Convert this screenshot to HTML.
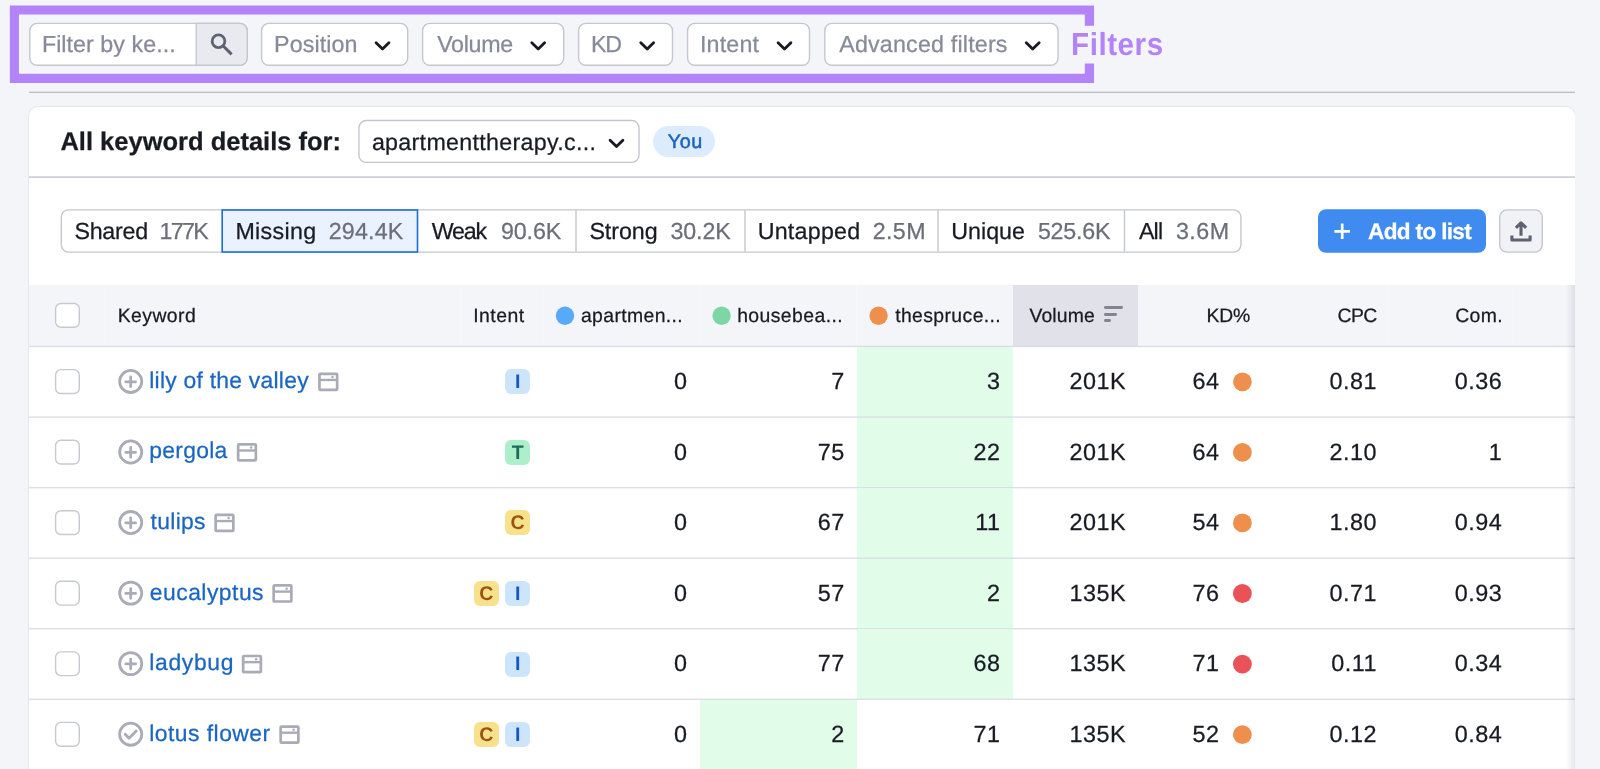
<!DOCTYPE html>
<html>
<head>
<meta charset="utf-8">
<title>Keyword Gap</title>
<style>
*{box-sizing:border-box;margin:0;padding:0}
html,body{width:1600px;height:769px;overflow:hidden;background:#f4f5f9;font-family:"Liberation Sans",sans-serif;color:#191b23}
.a{position:absolute}
.t{position:absolute;white-space:nowrap;-webkit-text-stroke:0.25px currentColor;text-rendering:geometricPrecision}
</style>
</head>
<body>
<div id="root" style="position:absolute;left:0;top:0;width:1600px;height:769px;overflow:hidden;will-change:transform">
<svg class="a" style="left:0;top:0" width="1100" height="90"><path d="M9.85 5.45H1094.05V25.8H1084.8V14.55H18.95V73.85000000000001H1084.8V63.5H1094.05V82.95H9.85Z" fill="#b284f7"/></svg>
<div class="t" style="left:1071.00px;top:31.00px;font-size:29.6px;line-height:29.6px;letter-spacing:0.55px;color:#b284f7;font-weight:bold;-webkit-text-stroke:0;transform:scaleY(1.075);transform-origin:0 84.6%;">Filters</div>
<svg class="a" style="left:28px;top:21px" width="221" height="46"><rect x="1.80" y="2.40" width="217.40" height="41.90" rx="7.30" fill="#fff" stroke="#c4c7cf" stroke-width="1.4"/></svg>
<svg class="a" style="left:195px;top:22px" width="54" height="45"><path d="M1.2 1.4H44.9a7.3 7.3 0 0 1 7.3 7.3V36a7.3 7.3 0 0 1-7.3 7.3H1.2z" fill="#e9eaf0" stroke="#c4c7cf" stroke-width="1.4"/></svg>
<div class="t" style="left:41.90px;top:33.00px;font-size:23.25px;line-height:23.25px;letter-spacing:0.05px;color:#878a99;">Filter by ke...</div>
<svg class="a" style="left:208px;top:31px" width="30" height="30" fill="none" stroke="#5f6270" stroke-width="3"><g transform="translate(0.00 0.00)"><circle cx="10.5" cy="10.25" r="6.35" stroke-width="2.8"/><path d="M15 14.75l8.6 8.6"/></g></svg>
<svg class="a" style="left:259px;top:21px" width="151" height="46"><rect x="2.60" y="2.40" width="146.10" height="41.90" rx="7.30" fill="#fff" stroke="#c4c7cf" stroke-width="1.4"/></svg>
<div class="t" style="left:274.10px;top:33.00px;font-size:23.25px;line-height:23.25px;letter-spacing:0.09px;color:#878a99;">Position</div>
<svg class="a" style="left:373px;top:40px" width="20" height="14" fill="none" stroke="#191b23" stroke-width="2.85" stroke-linecap="round" stroke-linejoin="round"><g transform="translate(0.50 0.20)"><path d="M2.6 2.6l6.4 6.2 6.4-6.2"/></g></svg>
<svg class="a" style="left:420px;top:21px" width="146" height="46"><rect x="2.60" y="2.40" width="141.10" height="41.90" rx="7.30" fill="#fff" stroke="#c4c7cf" stroke-width="1.4"/></svg>
<div class="t" style="left:437.15px;top:33.00px;font-size:23.25px;line-height:23.25px;letter-spacing:-0.31px;color:#878a99;">Volume</div>
<svg class="a" style="left:529px;top:40px" width="20" height="14" fill="none" stroke="#191b23" stroke-width="2.85" stroke-linecap="round" stroke-linejoin="round"><g transform="translate(0.20 0.20)"><path d="M2.6 2.6l6.4 6.2 6.4-6.2"/></g></svg>
<svg class="a" style="left:576px;top:21px" width="99" height="46"><rect x="2.60" y="2.40" width="93.90" height="41.90" rx="7.30" fill="#fff" stroke="#c4c7cf" stroke-width="1.4"/></svg>
<div class="t" style="left:590.90px;top:33.00px;font-size:23.25px;line-height:23.25px;letter-spacing:-1.25px;color:#878a99;">KD</div>
<svg class="a" style="left:638px;top:40px" width="20" height="14" fill="none" stroke="#191b23" stroke-width="2.85" stroke-linecap="round" stroke-linejoin="round"><g transform="translate(0.20 0.20)"><path d="M2.6 2.6l6.4 6.2 6.4-6.2"/></g></svg>
<svg class="a" style="left:685px;top:21px" width="127" height="46"><rect x="2.60" y="2.40" width="121.90" height="41.90" rx="7.30" fill="#fff" stroke="#c4c7cf" stroke-width="1.4"/></svg>
<div class="t" style="left:699.95px;top:33.00px;font-size:23.25px;line-height:23.25px;letter-spacing:0.19px;color:#878a99;">Intent</div>
<svg class="a" style="left:775px;top:40px" width="20" height="14" fill="none" stroke="#191b23" stroke-width="2.85" stroke-linecap="round" stroke-linejoin="round"><g transform="translate(0.50 0.20)"><path d="M2.6 2.6l6.4 6.2 6.4-6.2"/></g></svg>
<svg class="a" style="left:823px;top:21px" width="237" height="46"><rect x="1.80" y="2.40" width="233.20" height="41.90" rx="7.30" fill="#fff" stroke="#c4c7cf" stroke-width="1.4"/></svg>
<div class="t" style="left:839.20px;top:33.00px;font-size:23.25px;line-height:23.25px;letter-spacing:0.19px;color:#878a99;">Advanced filters</div>
<svg class="a" style="left:1023px;top:40px" width="20" height="14" fill="none" stroke="#191b23" stroke-width="2.85" stroke-linecap="round" stroke-linejoin="round"><g transform="translate(0.70 0.20)"><path d="M2.6 2.6l6.4 6.2 6.4-6.2"/></g></svg>
<div class="a" style="left:29.00px;top:91px;width:1545.70px;height:1px;background:rgba(192,192,196,0.35)"></div>
<div class="a" style="left:29.00px;top:92px;width:1545.70px;height:1px;background:rgba(192,192,196,1.00)"></div>
<div class="a" style="left:29.00px;top:93px;width:1545.70px;height:1px;background:rgba(192,192,196,0.05)"></div>
<div class="a" style="left:29.00px;top:107.40px;width:1545.50px;height:692.60px;background:#fff;border-radius:9px;box-shadow:0 0 0 1px #e6e7ed"></div>
<div class="t" style="left:60.45px;top:130.00px;font-size:25.5px;line-height:25.5px;letter-spacing:-0.00px;color:#191b23;font-weight:bold;">All keyword details for:</div>
<svg class="a" style="left:357px;top:118px" width="284" height="47"><rect x="1.90" y="2.50" width="280.10" height="41.90" rx="7.30" fill="#fff" stroke="#c4c7cf" stroke-width="1.4"/></svg>
<div class="t" style="left:371.90px;top:131.00px;font-size:23.25px;line-height:23.25px;letter-spacing:0.30px;color:#191b23;">apartmenttherapy.c...</div>
<svg class="a" style="left:607px;top:137px" width="20" height="14" fill="none" stroke="#191b23" stroke-width="2.85" stroke-linecap="round" stroke-linejoin="round"><g transform="translate(0.50 0.60)"><path d="M2.6 2.6l6.4 6.2 6.4-6.2"/></g></svg>
<div class="a" style="left:653.00px;top:126.00px;width:62.00px;height:31.00px;background:#dcecfc;border-radius:16px"></div>
<div class="t" style="left:667.80px;top:133.00px;font-size:19.8px;line-height:19.8px;letter-spacing:0.50px;color:#1a63c4;-webkit-text-stroke:0.5px #1a63c4;">You</div>
<div class="a" style="left:29.00px;top:176px;width:1545.70px;height:1px;background:rgba(194,197,206,0.60)"></div>
<div class="a" style="left:29.00px;top:177px;width:1545.70px;height:1px;background:rgba(194,197,206,0.80)"></div>
<svg class="a" style="left:59px;top:208px" width="1184" height="46"><rect x="2.30" y="1.90" width="1179.60" height="42.20" rx="7.30" fill="#fff" stroke="#c4c7cf" stroke-width="1.4"/></svg>
<div class="a" style="left:575px;top:210.00px;width:1px;height:42.00px;background:rgba(196,199,207,0.70)"></div>
<div class="a" style="left:576px;top:210.00px;width:1px;height:42.00px;background:rgba(196,199,207,0.70)"></div>
<div class="a" style="left:744px;top:210.00px;width:1px;height:42.00px;background:rgba(196,199,207,0.70)"></div>
<div class="a" style="left:745px;top:210.00px;width:1px;height:42.00px;background:rgba(196,199,207,0.70)"></div>
<div class="a" style="left:937px;top:210.00px;width:1px;height:42.00px;background:rgba(196,199,207,0.70)"></div>
<div class="a" style="left:938px;top:210.00px;width:1px;height:42.00px;background:rgba(196,199,207,0.70)"></div>
<div class="a" style="left:1123px;top:210.00px;width:1px;height:42.00px;background:rgba(196,199,207,0.20)"></div>
<div class="a" style="left:1124px;top:210.00px;width:1px;height:42.00px;background:rgba(196,199,207,1.00)"></div>
<div class="a" style="left:1125px;top:210.00px;width:1px;height:42.00px;background:rgba(196,199,207,0.20)"></div>
<svg class="a" style="left:220px;top:208px" width="200" height="46"><rect x="2.20" y="2.00" width="195.30" height="42.00" rx="0.00" fill="#e9f2fe" stroke="#1c6dd6" stroke-width="1.6"/></svg>
<div class="t" style="left:74.40px;top:220.00px;font-size:23.25px;line-height:23.25px;letter-spacing:-0.26px;color:#191b23;">Shared</div>
<div class="t" style="left:159.40px;top:220.00px;font-size:23.25px;line-height:23.25px;letter-spacing:-1.68px;color:#6c6e79;">177K</div>
<div class="t" style="left:235.40px;top:220.00px;font-size:23.25px;line-height:23.25px;letter-spacing:0.33px;color:#191b23;">Missing</div>
<div class="t" style="left:328.65px;top:220.00px;font-size:23.25px;line-height:23.25px;letter-spacing:0.19px;color:#6c6e79;">294.4K</div>
<div class="t" style="left:431.65px;top:220.00px;font-size:23.25px;line-height:23.25px;letter-spacing:-1.18px;color:#191b23;">Weak</div>
<div class="t" style="left:500.90px;top:220.00px;font-size:23.25px;line-height:23.25px;letter-spacing:-0.07px;color:#6c6e79;">90.6K</div>
<div class="t" style="left:589.40px;top:220.00px;font-size:23.25px;line-height:23.25px;letter-spacing:-0.06px;color:#191b23;">Strong</div>
<div class="t" style="left:670.40px;top:220.00px;font-size:23.25px;line-height:23.25px;letter-spacing:-0.07px;color:#6c6e79;">30.2K</div>
<div class="t" style="left:757.65px;top:220.00px;font-size:23.25px;line-height:23.25px;letter-spacing:0.24px;color:#191b23;">Untapped</div>
<div class="t" style="left:872.65px;top:220.00px;font-size:23.25px;line-height:23.25px;letter-spacing:0.40px;color:#6c6e79;">2.5M</div>
<div class="t" style="left:951.15px;top:220.00px;font-size:23.25px;line-height:23.25px;letter-spacing:0.04px;color:#191b23;">Unique</div>
<div class="t" style="left:1037.90px;top:220.00px;font-size:23.25px;line-height:23.25px;letter-spacing:-0.21px;color:#6c6e79;">525.6K</div>
<div class="t" style="left:1138.90px;top:220.00px;font-size:23.25px;line-height:23.25px;letter-spacing:-0.78px;color:#191b23;">All</div>
<div class="t" style="left:1175.90px;top:220.00px;font-size:23.25px;line-height:23.25px;letter-spacing:0.48px;color:#6c6e79;">3.6M</div>
<svg class="a" style="left:1317px;top:208px" width="170" height="46"><rect x="1.70" y="1.90" width="166.60" height="42.20" rx="7.30" fill="#3f8bf0" stroke="#3f8bf0" stroke-width="1.4"/></svg>
<svg class="a" style="left:1332px;top:221px" width="22" height="22" fill="none" stroke="#fff" stroke-width="2.7"><g transform="translate(0.20 0.30)"><path d="M10 2.2v15.6M2.2 10h15.6"/></g></svg>
<div class="t" style="left:1368.10px;top:221.00px;font-size:22.6px;line-height:22.6px;letter-spacing:-0.68px;color:#fff;font-weight:bold;">Add to list</div>
<svg class="a" style="left:1498px;top:208px" width="46" height="46"><rect x="1.70" y="1.90" width="42.60" height="42.20" rx="7.30" fill="#f1f2f6" stroke="#c4c7cf" stroke-width="1.4"/></svg>
<svg class="a" style="left:1508px;top:218px" width="26" height="26" viewBox="0 0 26 26" fill="none" stroke="#5f6270" stroke-width="3.1" stroke-linejoin="round"><path d="M13 17.8V5M7.9 9.9L13 4.8l5.1 5.1M3.9 17.6v4.4h18.2v-4.4"/></svg>
<div class="a" style="left:29.00px;top:284.50px;width:1545.70px;height:61.50px;background:#f4f5f9"></div>
<div class="a" style="left:1013.20px;top:284.50px;width:125.10px;height:61.50px;background:#e0e1e9"></div>
<div class="a" style="left:104.50px;top:284.50px;width:1.00px;height:61.50px;background:#f7f8fb"></div>
<div class="a" style="left:460.50px;top:284.50px;width:1.00px;height:61.50px;background:#f7f8fb"></div>
<div class="a" style="left:542.00px;top:284.50px;width:1.00px;height:61.50px;background:#f7f8fb"></div>
<div class="a" style="left:699.00px;top:284.50px;width:1.00px;height:61.50px;background:#f7f8fb"></div>
<div class="a" style="left:856.00px;top:284.50px;width:1.00px;height:61.50px;background:#f7f8fb"></div>
<div class="a" style="left:1388.30px;top:284.50px;width:1.00px;height:61.50px;background:#f7f8fb"></div>
<div class="a" style="left:1513.30px;top:284.50px;width:1.00px;height:61.50px;background:#f7f8fb"></div>
<div class="a" style="left:29.00px;top:345px;width:1545.70px;height:1px;background:rgba(218,219,227,0.25)"></div>
<div class="a" style="left:29.00px;top:346px;width:1545.70px;height:1px;background:rgba(218,219,227,1.00)"></div>
<div class="a" style="left:29.00px;top:347px;width:1545.70px;height:1px;background:rgba(218,219,227,0.15)"></div>
<svg class="a" style="left:53px;top:301px" width="28" height="28"><rect x="2.60" y="2.50" width="23.70" height="23.80" rx="5.30" fill="#fff" stroke="#c6c9d1" stroke-width="1.4"/></svg>
<div class="t" style="left:117.70px;top:307.00px;font-size:19.4px;line-height:19.4px;letter-spacing:0.44px;color:#191b23;">Keyword</div>
<div class="t" style="left:473.15px;top:307.00px;font-size:19.4px;line-height:19.4px;letter-spacing:0.50px;color:#191b23;">Intent</div>
<div class="t" style="left:580.95px;top:307.00px;font-size:19.4px;line-height:19.4px;letter-spacing:0.37px;color:#191b23;">apartmen...</div>
<div class="t" style="left:737.15px;top:307.00px;font-size:19.4px;line-height:19.4px;letter-spacing:0.42px;color:#191b23;">housebea...</div>
<div class="t" style="left:895.15px;top:307.00px;font-size:19.4px;line-height:19.4px;letter-spacing:0.39px;color:#191b23;">thespruce...</div>
<div class="t" style="left:1029.45px;top:307.00px;font-size:19.4px;line-height:19.4px;letter-spacing:0.14px;color:#191b23;">Volume</div>
<div class="t" style="left:1206.40px;top:307.00px;font-size:19.4px;line-height:19.4px;letter-spacing:-0.15px;color:#191b23;">KD%</div>
<div class="t" style="left:1337.40px;top:307.00px;font-size:19.4px;line-height:19.4px;letter-spacing:-0.50px;color:#191b23;">CPC</div>
<div class="t" style="left:1455.20px;top:307.00px;font-size:19.4px;line-height:19.4px;letter-spacing:0.40px;color:#191b23;">Com.</div>
<svg class="a" style="left:554px;top:305px" width="22.4" height="22.4" ><g transform="translate(0.80 0.60)"><circle cx="10.20" cy="10.20" r="9.20" fill="#57aaf8"/></g></svg>
<svg class="a" style="left:711px;top:305px" width="22.4" height="22.4" ><g transform="translate(0.40 0.60)"><circle cx="10.20" cy="10.20" r="9.20" fill="#7dd6a4"/></g></svg>
<svg class="a" style="left:868px;top:305px" width="22.4" height="22.4" ><g transform="translate(0.40 0.60)"><circle cx="10.20" cy="10.20" r="9.20" fill="#ee8f4e"/></g></svg>
<div class="a" style="left:1104.30px;top:306.30px;width:18.70px;height:2.80px;background:#82858f;border-radius:1.4px"></div>
<div class="a" style="left:1104.30px;top:312.75px;width:12.50px;height:2.80px;background:#82858f;border-radius:1.4px"></div>
<div class="a" style="left:1104.30px;top:319.05px;width:6.30px;height:2.80px;background:#82858f;border-radius:1.4px"></div>
<div class="a" style="left:856.80px;top:347.00px;width:156.40px;height:71.00px;background:#e2fcea"></div>
<div class="a" style="left:29.00px;top:416px;width:1545.70px;height:1px;background:rgba(221,222,230,0.60)"></div>
<div class="a" style="left:29.00px;top:417px;width:1545.70px;height:1px;background:rgba(221,222,230,0.80)"></div>
<svg class="a" style="left:53px;top:367px" width="28" height="29"><rect x="2.60" y="2.65" width="23.70" height="23.80" rx="5.30" fill="#fff" stroke="#c6c9d1" stroke-width="1.4"/></svg>
<svg class="a" style="left:117px;top:368px" width="28" height="28" fill="none" stroke="#a9abb6" stroke-width="2.8"><g transform="translate(0.70 0.45)"><circle cx="13" cy="13" r="11.05"/><path d="M13 8.4v9.8M8.1 13.3h9.8" stroke-width="2.75" stroke-linecap="round"/></g></svg>
<div class="t" style="left:149.30px;top:369.00px;font-size:22.9px;line-height:22.9px;letter-spacing:0.24px;color:#1a66c2;">lily of the valley</div>
<svg class="a" style="left:317px;top:371px" width="23" height="22"><rect x="2.45" y="2.80" width="17.70" height="16.05" rx="0.85" fill="none" stroke="#a9abb6" stroke-width="2.7"/><path d="M2.10 8.95h18.4" stroke="#a9abb6" stroke-width="2.4" fill="none"/><circle cx="15.45" cy="6.00" r="1.25" fill="#a9abb6"/></svg>
<div class="a" style="left:505.30px;top:369.35px;width:25.00px;height:25.00px;background:#cde5fb;border-radius:6px"></div>
<div class="t" style="left:514.95px;top:373.00px;font-size:19.6px;line-height:19.6px;letter-spacing:0.00px;color:#1558c0;font-weight:bold;-webkit-text-stroke:0;">I</div>
<div class="t" style="left:673.90px;top:370.00px;font-size:23.4px;line-height:23.4px;letter-spacing:0.50px;color:#191b23">0</div>
<div class="t" style="left:831.15px;top:370.00px;font-size:23.4px;line-height:23.4px;letter-spacing:0.50px;color:#191b23">7</div>
<div class="t" style="left:987.10px;top:370.00px;font-size:23.4px;line-height:23.4px;letter-spacing:0.50px;color:#191b23">3</div>
<div class="t" style="left:1069.45px;top:370.00px;font-size:23.4px;line-height:23.4px;letter-spacing:0.50px;color:#191b23">201K</div>
<div class="t" style="left:1192.45px;top:370.00px;font-size:23.4px;line-height:23.4px;letter-spacing:0.50px;color:#191b23">64</div>
<svg class="a" style="left:1232px;top:371px" width="22.8" height="22.8" ><g transform="translate(0.00 0.45)"><circle cx="10.40" cy="10.40" r="9.40" fill="#ee8f4e"/></g></svg>
<div class="t" style="left:1329.55px;top:370.00px;font-size:23.4px;line-height:23.4px;letter-spacing:0.50px;color:#191b23">0.81</div>
<div class="t" style="left:1454.80px;top:370.00px;font-size:23.4px;line-height:23.4px;letter-spacing:0.50px;color:#191b23">0.36</div>
<div class="a" style="left:856.80px;top:418.00px;width:156.40px;height:70.00px;background:#e2fcea"></div>
<div class="a" style="left:29.00px;top:486px;width:1545.70px;height:1px;background:rgba(221,222,230,0.05)"></div>
<div class="a" style="left:29.00px;top:487px;width:1545.70px;height:1px;background:rgba(221,222,230,1.00)"></div>
<div class="a" style="left:29.00px;top:488px;width:1545.70px;height:1px;background:rgba(221,222,230,0.35)"></div>
<svg class="a" style="left:53px;top:438px" width="28" height="28"><rect x="2.60" y="2.20" width="23.70" height="23.80" rx="5.30" fill="#fff" stroke="#c6c9d1" stroke-width="1.4"/></svg>
<svg class="a" style="left:117px;top:439px" width="28" height="28" fill="none" stroke="#a9abb6" stroke-width="2.8"><g transform="translate(0.70 0.00)"><circle cx="13" cy="13" r="11.05"/><path d="M13 8.4v9.8M8.1 13.3h9.8" stroke-width="2.75" stroke-linecap="round"/></g></svg>
<div class="t" style="left:149.30px;top:439.00px;font-size:22.9px;line-height:22.9px;letter-spacing:0.26px;color:#1a66c2;">pergola</div>
<svg class="a" style="left:235px;top:442px" width="24" height="21"><rect x="3.15" y="2.35" width="17.70" height="16.05" rx="0.85" fill="none" stroke="#a9abb6" stroke-width="2.7"/><path d="M2.80 8.50h18.4" stroke="#a9abb6" stroke-width="2.4" fill="none"/><circle cx="16.15" cy="5.55" r="1.25" fill="#a9abb6"/></svg>
<div class="a" style="left:505.30px;top:439.90px;width:25.00px;height:25.00px;background:#aeefcb;border-radius:6px"></div>
<div class="t" style="left:511.70px;top:444.00px;font-size:19.6px;line-height:19.6px;letter-spacing:0.00px;color:#1c6e5a;font-weight:bold;-webkit-text-stroke:0;">T</div>
<div class="t" style="left:673.90px;top:441.00px;font-size:23.4px;line-height:23.4px;letter-spacing:0.50px;color:#191b23">0</div>
<div class="t" style="left:817.64px;top:441.00px;font-size:23.4px;line-height:23.4px;letter-spacing:0.50px;color:#191b23">75</div>
<div class="t" style="left:973.59px;top:441.00px;font-size:23.4px;line-height:23.4px;letter-spacing:0.50px;color:#191b23">22</div>
<div class="t" style="left:1069.45px;top:441.00px;font-size:23.4px;line-height:23.4px;letter-spacing:0.50px;color:#191b23">201K</div>
<div class="t" style="left:1192.45px;top:441.00px;font-size:23.4px;line-height:23.4px;letter-spacing:0.50px;color:#191b23">64</div>
<svg class="a" style="left:1232px;top:442px" width="22.8" height="22.8" ><g transform="translate(0.00 0.00)"><circle cx="10.40" cy="10.40" r="9.40" fill="#ee8f4e"/></g></svg>
<div class="t" style="left:1329.55px;top:441.00px;font-size:23.4px;line-height:23.4px;letter-spacing:0.50px;color:#191b23">2.10</div>
<div class="t" style="left:1488.83px;top:441.00px;font-size:23.4px;line-height:23.4px;letter-spacing:0.50px;color:#191b23">1</div>
<div class="a" style="left:856.80px;top:488.00px;width:156.40px;height:71.00px;background:#e2fcea"></div>
<div class="a" style="left:29.00px;top:557px;width:1545.70px;height:1px;background:rgba(221,222,230,0.50)"></div>
<div class="a" style="left:29.00px;top:558px;width:1545.70px;height:1px;background:rgba(221,222,230,0.90)"></div>
<svg class="a" style="left:53px;top:509px" width="28" height="28"><rect x="2.60" y="1.75" width="23.70" height="23.80" rx="5.30" fill="#fff" stroke="#c6c9d1" stroke-width="1.4"/></svg>
<svg class="a" style="left:117px;top:509px" width="28" height="28" fill="none" stroke="#a9abb6" stroke-width="2.8"><g transform="translate(0.70 0.55)"><circle cx="13" cy="13" r="11.05"/><path d="M13 8.4v9.8M8.1 13.3h9.8" stroke-width="2.75" stroke-linecap="round"/></g></svg>
<div class="t" style="left:150.55px;top:510.00px;font-size:22.9px;line-height:22.9px;letter-spacing:0.31px;color:#1a66c2;">tulips</div>
<svg class="a" style="left:213px;top:512px" width="23" height="22"><rect x="2.65" y="2.90" width="17.70" height="16.05" rx="0.85" fill="none" stroke="#a9abb6" stroke-width="2.7"/><path d="M2.30 9.05h18.4" stroke="#a9abb6" stroke-width="2.4" fill="none"/><circle cx="15.65" cy="6.10" r="1.25" fill="#a9abb6"/></svg>
<div class="a" style="left:505.30px;top:510.45px;width:25.00px;height:25.00px;background:#f8e18c;border-radius:6px"></div>
<div class="t" style="left:510.57px;top:514.00px;font-size:19.6px;line-height:19.6px;letter-spacing:0.00px;color:#9a5410;font-weight:bold;-webkit-text-stroke:0;">C</div>
<div class="t" style="left:673.90px;top:511.00px;font-size:23.4px;line-height:23.4px;letter-spacing:0.50px;color:#191b23">0</div>
<div class="t" style="left:817.64px;top:511.00px;font-size:23.4px;line-height:23.4px;letter-spacing:0.50px;color:#191b23">67</div>
<div class="t" style="left:975.32px;top:511.00px;font-size:23.4px;line-height:23.4px;letter-spacing:0.50px;color:#191b23">11</div>
<div class="t" style="left:1069.45px;top:511.00px;font-size:23.4px;line-height:23.4px;letter-spacing:0.50px;color:#191b23">201K</div>
<div class="t" style="left:1192.45px;top:511.00px;font-size:23.4px;line-height:23.4px;letter-spacing:0.50px;color:#191b23">54</div>
<svg class="a" style="left:1232px;top:512px" width="22.8" height="22.8" ><g transform="translate(0.00 0.55)"><circle cx="10.40" cy="10.40" r="9.40" fill="#ee8f4e"/></g></svg>
<div class="t" style="left:1329.55px;top:511.00px;font-size:23.4px;line-height:23.4px;letter-spacing:0.50px;color:#191b23">1.80</div>
<div class="t" style="left:1454.80px;top:511.00px;font-size:23.4px;line-height:23.4px;letter-spacing:0.50px;color:#191b23">0.94</div>
<div class="a" style="left:856.80px;top:559.00px;width:156.40px;height:70.00px;background:#e2fcea"></div>
<div class="a" style="left:29.00px;top:628px;width:1545.70px;height:1px;background:rgba(221,222,230,0.95)"></div>
<div class="a" style="left:29.00px;top:629px;width:1545.70px;height:1px;background:rgba(221,222,230,0.45)"></div>
<svg class="a" style="left:53px;top:579px" width="28" height="28"><rect x="2.60" y="2.30" width="23.70" height="23.80" rx="5.30" fill="#fff" stroke="#c6c9d1" stroke-width="1.4"/></svg>
<svg class="a" style="left:117px;top:580px" width="28" height="28" fill="none" stroke="#a9abb6" stroke-width="2.8"><g transform="translate(0.70 0.10)"><circle cx="13" cy="13" r="11.05"/><path d="M13 8.4v9.8M8.1 13.3h9.8" stroke-width="2.75" stroke-linecap="round"/></g></svg>
<div class="t" style="left:149.80px;top:581.00px;font-size:22.9px;line-height:22.9px;letter-spacing:0.48px;color:#1a66c2;">eucalyptus</div>
<svg class="a" style="left:271px;top:583px" width="23" height="21"><rect x="2.65" y="2.45" width="17.70" height="16.05" rx="0.85" fill="none" stroke="#a9abb6" stroke-width="2.7"/><path d="M2.30 8.60h18.4" stroke="#a9abb6" stroke-width="2.4" fill="none"/><circle cx="15.65" cy="5.65" r="1.25" fill="#a9abb6"/></svg>
<div class="a" style="left:505.30px;top:581.00px;width:25.00px;height:25.00px;background:#cde5fb;border-radius:6px"></div>
<div class="t" style="left:514.95px;top:585.00px;font-size:19.6px;line-height:19.6px;letter-spacing:0.00px;color:#1558c0;font-weight:bold;-webkit-text-stroke:0;">I</div>
<div class="a" style="left:473.90px;top:581.00px;width:25.00px;height:25.00px;background:#f8e18c;border-radius:6px"></div>
<div class="t" style="left:479.17px;top:585.00px;font-size:19.6px;line-height:19.6px;letter-spacing:0.00px;color:#9a5410;font-weight:bold;-webkit-text-stroke:0;">C</div>
<div class="t" style="left:673.90px;top:582.00px;font-size:23.4px;line-height:23.4px;letter-spacing:0.50px;color:#191b23">0</div>
<div class="t" style="left:817.64px;top:582.00px;font-size:23.4px;line-height:23.4px;letter-spacing:0.50px;color:#191b23">57</div>
<div class="t" style="left:987.10px;top:582.00px;font-size:23.4px;line-height:23.4px;letter-spacing:0.50px;color:#191b23">2</div>
<div class="t" style="left:1069.45px;top:582.00px;font-size:23.4px;line-height:23.4px;letter-spacing:0.50px;color:#191b23">135K</div>
<div class="t" style="left:1192.45px;top:582.00px;font-size:23.4px;line-height:23.4px;letter-spacing:0.50px;color:#191b23">76</div>
<svg class="a" style="left:1232px;top:583px" width="22.8" height="22.8" ><g transform="translate(0.00 0.10)"><circle cx="10.40" cy="10.40" r="9.40" fill="#e95258"/></g></svg>
<div class="t" style="left:1329.55px;top:582.00px;font-size:23.4px;line-height:23.4px;letter-spacing:0.50px;color:#191b23">0.71</div>
<div class="t" style="left:1454.80px;top:582.00px;font-size:23.4px;line-height:23.4px;letter-spacing:0.50px;color:#191b23">0.93</div>
<div class="a" style="left:856.80px;top:629.00px;width:156.40px;height:71.00px;background:#e2fcea"></div>
<div class="a" style="left:29.00px;top:698px;width:1545.70px;height:1px;background:rgba(221,222,230,0.40)"></div>
<div class="a" style="left:29.00px;top:699px;width:1545.70px;height:1px;background:rgba(221,222,230,1.00)"></div>
<svg class="a" style="left:53px;top:650px" width="28" height="28"><rect x="2.60" y="1.85" width="23.70" height="23.80" rx="5.30" fill="#fff" stroke="#c6c9d1" stroke-width="1.4"/></svg>
<svg class="a" style="left:117px;top:650px" width="28" height="28" fill="none" stroke="#a9abb6" stroke-width="2.8"><g transform="translate(0.70 0.65)"><circle cx="13" cy="13" r="11.05"/><path d="M13 8.4v9.8M8.1 13.3h9.8" stroke-width="2.75" stroke-linecap="round"/></g></svg>
<div class="t" style="left:149.30px;top:651.00px;font-size:22.9px;line-height:22.9px;letter-spacing:0.67px;color:#1a66c2;">ladybug</div>
<svg class="a" style="left:240px;top:653px" width="24" height="22"><rect x="3.15" y="3.00" width="17.70" height="16.05" rx="0.85" fill="none" stroke="#a9abb6" stroke-width="2.7"/><path d="M2.80 9.15h18.4" stroke="#a9abb6" stroke-width="2.4" fill="none"/><circle cx="16.15" cy="6.20" r="1.25" fill="#a9abb6"/></svg>
<div class="a" style="left:505.30px;top:651.55px;width:25.00px;height:25.00px;background:#cde5fb;border-radius:6px"></div>
<div class="t" style="left:514.95px;top:655.00px;font-size:19.6px;line-height:19.6px;letter-spacing:0.00px;color:#1558c0;font-weight:bold;-webkit-text-stroke:0;">I</div>
<div class="t" style="left:673.90px;top:652.00px;font-size:23.4px;line-height:23.4px;letter-spacing:0.50px;color:#191b23">0</div>
<div class="t" style="left:817.64px;top:652.00px;font-size:23.4px;line-height:23.4px;letter-spacing:0.50px;color:#191b23">77</div>
<div class="t" style="left:973.59px;top:652.00px;font-size:23.4px;line-height:23.4px;letter-spacing:0.50px;color:#191b23">68</div>
<div class="t" style="left:1069.45px;top:652.00px;font-size:23.4px;line-height:23.4px;letter-spacing:0.50px;color:#191b23">135K</div>
<div class="t" style="left:1192.45px;top:652.00px;font-size:23.4px;line-height:23.4px;letter-spacing:0.50px;color:#191b23">71</div>
<svg class="a" style="left:1232px;top:653px" width="22.8" height="22.8" ><g transform="translate(0.00 0.65)"><circle cx="10.40" cy="10.40" r="9.40" fill="#e95258"/></g></svg>
<div class="t" style="left:1331.29px;top:652.00px;font-size:23.4px;line-height:23.4px;letter-spacing:0.50px;color:#191b23">0.11</div>
<div class="t" style="left:1454.80px;top:652.00px;font-size:23.4px;line-height:23.4px;letter-spacing:0.50px;color:#191b23">0.34</div>
<div class="a" style="left:699.80px;top:700.00px;width:157.00px;height:71.00px;background:#e2fcea"></div>
<div class="a" style="left:29.00px;top:769px;width:1545.70px;height:1px;background:rgba(221,222,230,0.85)"></div>
<div class="a" style="left:29.00px;top:770px;width:1545.70px;height:1px;background:rgba(221,222,230,0.55)"></div>
<svg class="a" style="left:53px;top:720px" width="28" height="28"><rect x="2.60" y="2.40" width="23.70" height="23.80" rx="5.30" fill="#fff" stroke="#c6c9d1" stroke-width="1.4"/></svg>
<svg class="a" style="left:117px;top:721px" width="28" height="28" fill="none" stroke="#a9abb6" stroke-width="2.8"><g transform="translate(0.70 0.20)"><path d="M7.5 13.1l3.85 4 7.2-7.2" stroke-linejoin="round" stroke-linecap="round"/><circle cx="13" cy="13" r="11.05"/></g></svg>
<div class="t" style="left:149.30px;top:722.00px;font-size:22.9px;line-height:22.9px;letter-spacing:0.46px;color:#1a66c2;">lotus flower</div>
<svg class="a" style="left:278px;top:724px" width="23" height="21"><rect x="2.65" y="2.55" width="17.70" height="16.05" rx="0.85" fill="none" stroke="#a9abb6" stroke-width="2.7"/><path d="M2.30 8.70h18.4" stroke="#a9abb6" stroke-width="2.4" fill="none"/><circle cx="15.65" cy="5.75" r="1.25" fill="#a9abb6"/></svg>
<div class="a" style="left:505.30px;top:722.10px;width:25.00px;height:25.00px;background:#cde5fb;border-radius:6px"></div>
<div class="t" style="left:514.95px;top:726.00px;font-size:19.6px;line-height:19.6px;letter-spacing:0.00px;color:#1558c0;font-weight:bold;-webkit-text-stroke:0;">I</div>
<div class="a" style="left:473.90px;top:722.10px;width:25.00px;height:25.00px;background:#f8e18c;border-radius:6px"></div>
<div class="t" style="left:479.17px;top:726.00px;font-size:19.6px;line-height:19.6px;letter-spacing:0.00px;color:#9a5410;font-weight:bold;-webkit-text-stroke:0;">C</div>
<div class="t" style="left:673.90px;top:723.00px;font-size:23.4px;line-height:23.4px;letter-spacing:0.50px;color:#191b23">0</div>
<div class="t" style="left:831.15px;top:723.00px;font-size:23.4px;line-height:23.4px;letter-spacing:0.50px;color:#191b23">2</div>
<div class="t" style="left:973.59px;top:723.00px;font-size:23.4px;line-height:23.4px;letter-spacing:0.50px;color:#191b23">71</div>
<div class="t" style="left:1069.45px;top:723.00px;font-size:23.4px;line-height:23.4px;letter-spacing:0.50px;color:#191b23">135K</div>
<div class="t" style="left:1192.45px;top:723.00px;font-size:23.4px;line-height:23.4px;letter-spacing:0.50px;color:#191b23">52</div>
<svg class="a" style="left:1232px;top:724px" width="22.8" height="22.8" ><g transform="translate(0.00 0.20)"><circle cx="10.40" cy="10.40" r="9.40" fill="#ee8f4e"/></g></svg>
<div class="t" style="left:1329.55px;top:723.00px;font-size:23.4px;line-height:23.4px;letter-spacing:0.50px;color:#191b23">0.12</div>
<div class="t" style="left:1454.80px;top:723.00px;font-size:23.4px;line-height:23.4px;letter-spacing:0.50px;color:#191b23">0.84</div>
<div class="a" style="left:1566px;top:284.5px;width:8.7px;height:500px;background:linear-gradient(to right,rgba(140,144,165,0),rgba(140,144,165,0.22))"></div>
<div class="a" style="left:1574.70px;top:0.00px;width:25.30px;height:769.00px;background:#f4f5f9"></div>
</div>
</body>
</html>
